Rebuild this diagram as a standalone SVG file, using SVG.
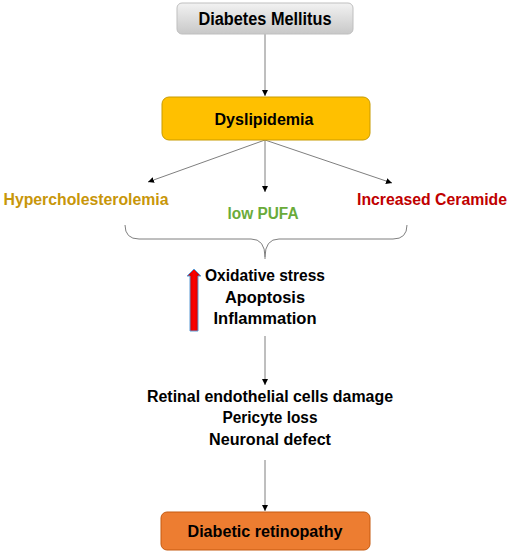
<svg xmlns="http://www.w3.org/2000/svg" width="510" height="553" viewBox="0 0 510 553">
<style>
text{font-family:"Liberation Sans",Arial,sans-serif;font-weight:bold;text-anchor:middle}
.t{font-size:16px;fill:#000}
.c{stroke:#7f7f7f;stroke-width:1;fill:none}
</style>
<defs>
<linearGradient id="gray" x1="0" y1="0" x2="0" y2="1">
<stop offset="0" stop-color="#f2f2f2"/><stop offset="1" stop-color="#c8c8c8"/>
</linearGradient>
<linearGradient id="red" x1="0" y1="0" x2="1" y2="0">
<stop offset="0" stop-color="#c00000"/><stop offset="0.5" stop-color="#ff0000"/><stop offset="1" stop-color="#c00000"/>
</linearGradient>
<marker id="ah" viewBox="0 0 10 10" refX="10" refY="5" markerWidth="6" markerHeight="6" orient="auto" markerUnits="userSpaceOnUse">
<path d="M0,0 L10,5 L0,10 z" fill="#000"/>
</marker>
</defs>
<rect width="510" height="553" fill="#fff"/>
<g id="connectors">
<line class="c" x1="265" y1="34" x2="265" y2="96" marker-end="url(#ah)"/>
<line class="c" x1="265" y1="140" x2="148" y2="182" marker-end="url(#ah)"/>
<line class="c" x1="265" y1="140" x2="265" y2="192" marker-end="url(#ah)"/>
<line class="c" x1="265" y1="140" x2="392" y2="183" marker-end="url(#ah)"/>
<path class="c" d="M125,225 Q125,239 139,239 L251,239 Q265,239 265,257 Q265,239 279,239 L393,239 Q407,239 407,225"/>
<line class="c" x1="265" y1="257" x2="265" y2="259"/>
<line class="c" x1="265" y1="336" x2="265" y2="385" marker-end="url(#ah)"/>
<line class="c" x1="265" y1="460" x2="265" y2="511" marker-end="url(#ah)"/>
</g>
<g id="diabetes-mellitus">
<rect x="177" y="3" width="176" height="31" rx="5" fill="url(#gray)" stroke="#bfbfbf" stroke-width="1"/>
<text x="265" y="25" font-size="17.5" fill="#000" textLength="133" lengthAdjust="spacingAndGlyphs">Diabetes Mellitus</text>
</g>
<g id="dyslipidemia">
<rect x="162" y="97" width="208" height="43" rx="7" fill="#ffc000" stroke="#c89b00" stroke-width="1"/>
<text class="t" x="264" y="125" textLength="99" lengthAdjust="spacingAndGlyphs">Dyslipidemia</text>
</g>
<g id="hypercholesterolemia">
<text x="86" y="205" font-size="16" fill="#c8960a" textLength="165" lengthAdjust="spacingAndGlyphs">Hypercholesterolemia</text>
</g>
<g id="low-pufa">
<text x="263" y="219" font-size="16" fill="#6aab3a" textLength="71" lengthAdjust="spacingAndGlyphs">low PUFA</text>
</g>
<g id="increased-ceramide">
<text x="432" y="205" font-size="16" fill="#c00000" textLength="150" lengthAdjust="spacingAndGlyphs">Increased Ceramide</text>
</g>
<g id="effects">
<path d="M194,269 L201,276 L198,276 L198,331 L190,331 L190,276 L187,276 Z" fill="url(#red)" stroke="#5b9bd5" stroke-width="1"/>
<text class="t" x="265" y="281" textLength="120" lengthAdjust="spacingAndGlyphs">Oxidative stress</text>
<text class="t" x="265" y="303" textLength="80" lengthAdjust="spacingAndGlyphs">Apoptosis</text>
<text class="t" x="265" y="324" textLength="103" lengthAdjust="spacingAndGlyphs">Inflammation</text>
</g>
<g id="damage">
<text class="t" x="270" y="402" textLength="246" lengthAdjust="spacingAndGlyphs">Retinal endothelial cells damage</text>
<text class="t" x="270" y="423" textLength="95" lengthAdjust="spacingAndGlyphs">Pericyte loss</text>
<text class="t" x="270" y="445" textLength="122" lengthAdjust="spacingAndGlyphs">Neuronal defect</text>
</g>
<g id="diabetic-retinopathy">
<rect x="161" y="512" width="209" height="38" rx="6" fill="#ed7d31" stroke="#c55a11" stroke-width="1"/>
<text class="t" x="265" y="537" textLength="155" lengthAdjust="spacingAndGlyphs">Diabetic retinopathy</text>
</g>
</svg>
